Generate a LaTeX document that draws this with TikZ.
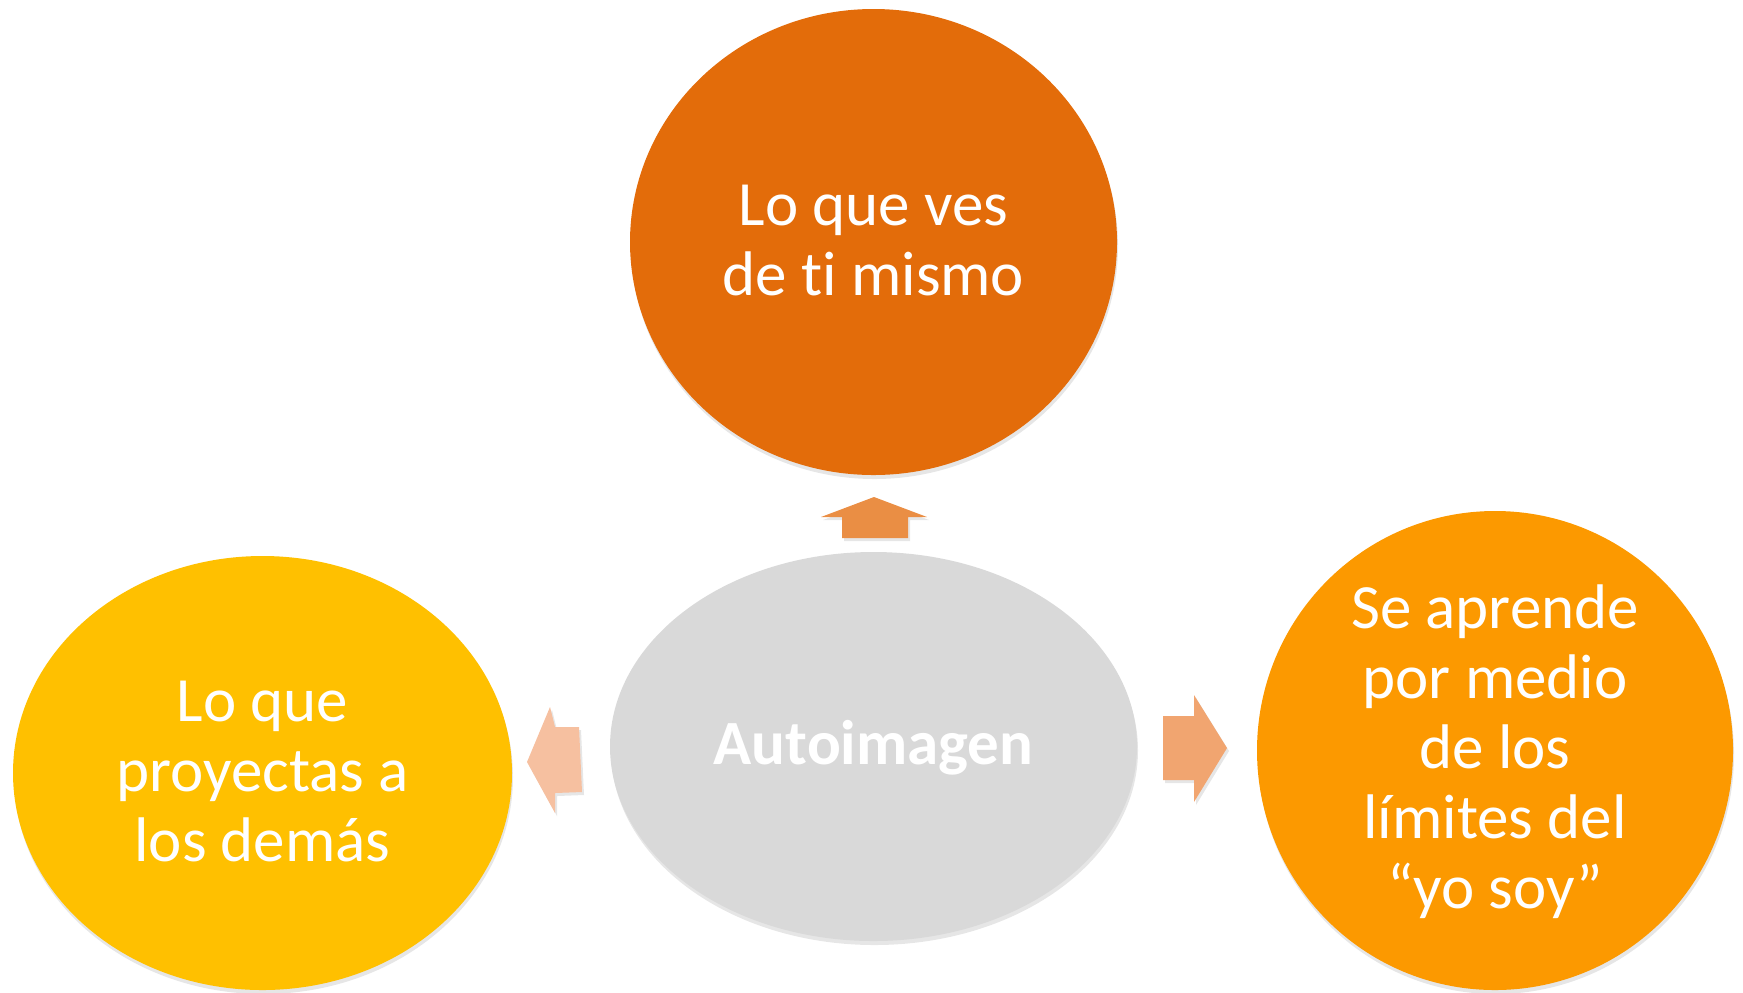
\documentclass[tikz,border=0pt]{standalone}
\usepackage{fontspec}
\setmainfont{Carlito}[Ligatures={NoCommon,NoRare,NoContextual}]
\usetikzlibrary{shapes.geometric,shadows}
\definecolor{topc}{RGB}{227,108,10}
\definecolor{leftc}{RGB}{255,192,0}
\definecolor{rightc}{RGB}{252,153,0}
\definecolor{midc}{RGB}{217,217,217}
\definecolor{upar}{RGB}{234,142,68}
\definecolor{rtar}{RGB}{241,165,112}
\definecolor{lfar}{RGB}{246,192,160}
\tikzset{
  bubble/.style={ellipse, inner sep=0pt, draw=none,
    drop shadow={opacity=0.2, shadow xshift=0.5pt, shadow yshift=-2pt}},
  btext/.style={text=white, align=center, inner sep=0pt,
    font=\fontsize{31.5}{35}\selectfont},
  barrow/.style={draw=none,
    drop shadow={opacity=0.2, shadow xshift=1pt, shadow yshift=-1.5pt}}
}
\begin{document}
\begin{tikzpicture}[x=0.5pt,y=-0.5pt]
\useasboundingbox (0,0) rectangle (1743,992);
% bubbles
\node[bubble, fill=topc, minimum width=243.5pt, minimum height=233pt] (top) at (873.5,242) {};
\node[bubble, fill=leftc, minimum width=249.5pt, minimum height=217pt] (left) at (262.5,773) {};
\node[bubble, fill=midc, minimum width=263.5pt, minimum height=194.5pt] (mid) at (873.5,746.5) {};
\node[bubble, fill=rightc, minimum width=238pt, minimum height=239.5pt] (right) at (1495,750.5) {};
% texts
\node[btext] (toptext) at ([yshift=-2pt]top.center) {\strut Lo que ves\\de ti mismo\strut};
\node[btext] (lefttext) at ([yshift=-2pt]left.center) {\strut Lo que\\proyectas a\\los demás\strut};
\node[btext, font=\fontsize{31.5}{35}\selectfont\bfseries] (midtext) at ([yshift=-2pt]mid.center) {\strut Autoimagen\strut};
\node[btext] (righttext) at ([yshift=-2pt]right.center) {\strut Se aprende\\por medio\\de los\\límites del\\“yo soy”\strut};
% block arrows
\coordinate (upa) at (874,497);
\fill[barrow, upar] (842,538) -- (842,517) -- (821,517) -- (upa) -- (927,517) -- (908,517) -- (908,538) -- cycle;
\coordinate (rta) at (1227,748);
\fill[barrow, rtar] (1163,716) -- (1194,716) -- (1194,695) -- (rta) -- (1194,802) -- (1194,780) -- (1163,780) -- cycle;
\coordinate (lfa) at (527,762);
\fill[barrow, lfar] (lfa) -- (550,707) -- (555,727) -- (579,727) -- (582,792) -- (555,793) -- (555,813) -- cycle;
\end{tikzpicture}
\end{document}
